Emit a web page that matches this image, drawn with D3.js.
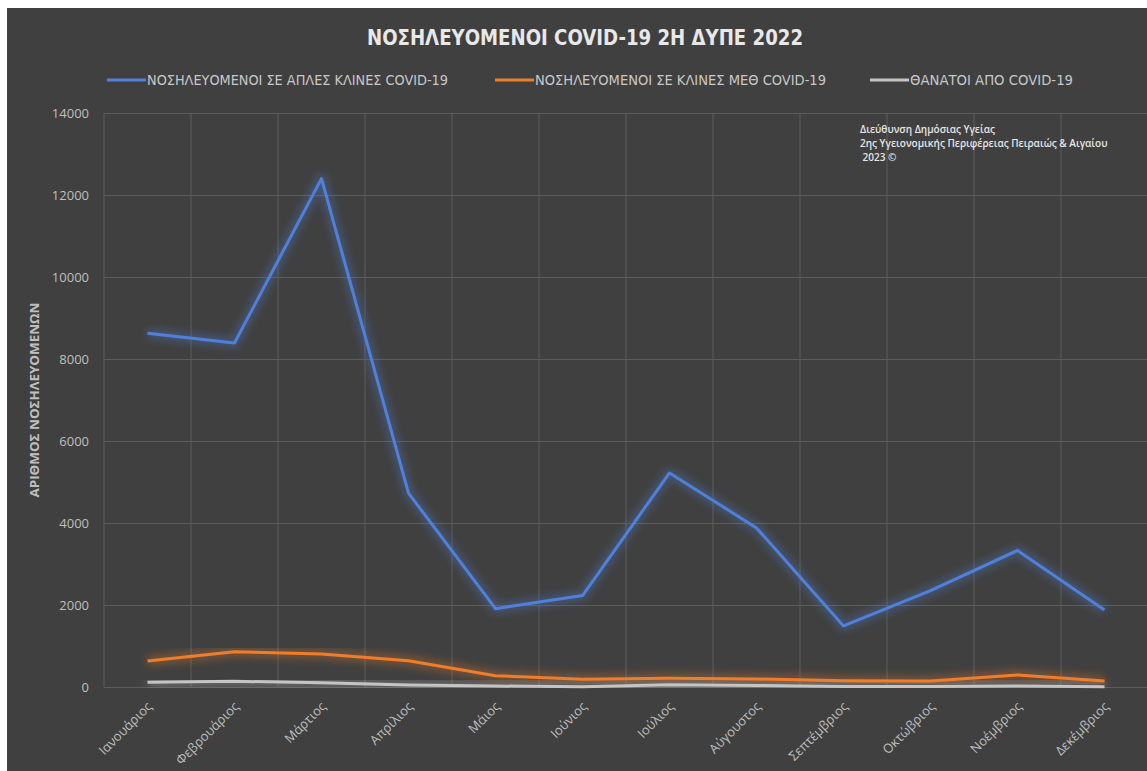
<!DOCTYPE html>
<html>
<head>
<meta charset="utf-8">
<script src="https://cdn.jsdelivr.net/npm/d3@7"></script>
<style>
  html, body { margin: 0; padding: 0; background: #ffffff; }
  svg { display: block; }
</style>
</head>
<body>
<svg id="chart" width="1147" height="771"></svg>
<script>
// ---- data ----
const months = ["Ιανουάριος","Φεβρουάριος","Μάρτιος","Απρίλιος","Μάιος","Ιούνιος","Ιούλιος","Αύγουστος","Σεπτέμβριος","Οκτώβριος","Νοέμβριος","Δεκέμβριος"];
const wardBeds = [8630, 8390, 12400, 4730, 1910, 2230, 5220, 3880, 1490, 2350, 3330, 1880];
const icuBeds  = [634, 861, 805, 641, 276, 188, 212, 195, 154, 146, 293, 146];
const deaths   = [115, 139, 105, 49, 24, 8, 56, 37, 15, 15, 25, 8];
const yTicks   = [0, 2000, 4000, 6000, 8000, 10000, 12000, 14000];
const seriesNames = ["ΝΟΣΗΛΕΥΟΜΕΝΟΙ ΣΕ ΑΠΛΕΣ ΚΛΙΝΕΣ COVID-19", "ΝΟΣΗΛΕΥΟΜΕΝΟΙ ΣΕ ΚΛΙΝΕΣ ΜΕΘ COVID-19", "ΘΑΝΑΤΟΙ ΑΠΟ COVID-19"];
const seriesColors = ["#4f80dc", "#f07d2c", "#c4c4c4"];
const titleText = "ΝΟΣΗΛΕΥΟΜΕΝΟΙ COVID-19 2Η ΔΥΠΕ 2022";
const yTitle = "ΑΡΙΘΜΟΣ ΝΟΣΗΛΕΥΟΜΕΝΩΝ";
const noteLines = ["Διεύθυνση Δημόσιας Υγείας", "2ης Υγειονομικής Περιφέρειας Πειραιώς & Αιγαίου", " 2023 ©"];

const svg = d3.select("#chart");
const W = 1147, H = 771;
const pLeft = 104, pRight = 1148, pTop = 113, pBottom = 687;
const condensed = "'DejaVu Sans Condensed', 'Open Sans', sans-serif";

// background
svg.append("rect").attr("x", 7).attr("y", 8).attr("width", W - 7).attr("height", H - 8).attr("fill", "#404040");

const defs = svg.append("defs");
const glow = defs.append("filter").attr("id", "glow").attr("x", "-10%").attr("y", "-10%").attr("width", "120%").attr("height", "120%");
glow.append("feGaussianBlur").attr("stdDeviation", 4);

const x = d3.scaleBand().domain(months).range([pLeft, pRight]);
const y = d3.scaleLinear().domain([0, 14000]).range([pBottom, pTop]);
const cx = d => x(d) + x.bandwidth() / 2;

// horizontal gridlines + y labels
const yAxis = d3.axisLeft(y).tickValues(yTicks).tickSize(-(pRight - pLeft)).tickPadding(15).tickFormat(d3.format("d"));
const gy = svg.append("g").attr("transform", `translate(${pLeft},0)`).call(yAxis);
gy.select(".domain").remove();
gy.selectAll(".tick line").attr("stroke", "#5c5c5c").attr("stroke-width", 1);
gy.selectAll(".tick text").attr("fill", "#bfbfbf").attr("font-family", "Open Sans").attr("font-size", 13);

// vertical gridlines at category boundaries
const bounds = months.map(m => x(m)).concat([pRight]);
svg.append("g").selectAll("line").data(bounds).join("line")
  .attr("x1", d => d).attr("x2", d => d).attr("y1", pTop).attr("y2", pBottom)
  .attr("stroke", "#5c5c5c").attr("stroke-width", 1);

// x labels
svg.append("g").selectAll("text").data(months).join("text")
  .attr("transform", d => `translate(${cx(d) + 2},${pBottom + 17}) rotate(-45)`)
  .attr("text-anchor", "end").attr("dy", "0.35em")
  .attr("fill", "#bfbfbf").attr("font-family", "Open Sans").attr("font-size", 13)
  .text(d => d);

// lines
const allSeries = [wardBeds, icuBeds, deaths];
const line = d3.line().x((d, i) => cx(months[i])).y(d => y(d));
allSeries.forEach((s, k) => {
  svg.append("path").datum(s).attr("d", line).attr("fill", "none")
    .attr("stroke", seriesColors[k]).attr("stroke-width", 9).attr("stroke-opacity", 0.35)
    .attr("stroke-linejoin", "round").attr("filter", "url(#glow)");
});
allSeries.slice().reverse().forEach((s, kk) => {
  const k = allSeries.length - 1 - kk;
  svg.append("path").datum(s).attr("d", line).attr("fill", "none")
    .attr("stroke", seriesColors[k]).attr("stroke-width", 3)
    .attr("stroke-linejoin", "round");
});

// title
svg.append("text").attr("x", 585).attr("y", 45).attr("text-anchor", "middle")
  .attr("fill", "#e8e8e8").attr("font-family", condensed).attr("font-weight", "bold")
  .attr("font-size", 22).attr("textLength", 436).attr("lengthAdjust", "spacingAndGlyphs")
  .text(titleText);

// legend
const legendX = [107, 495, 870];
const legendW = [301, 291, 163];
seriesNames.forEach((n, k) => {
  svg.append("line").attr("x1", legendX[k]).attr("x2", legendX[k] + 39).attr("y1", 80).attr("y2", 80)
    .attr("stroke", seriesColors[k]).attr("stroke-width", 3);
  svg.append("text").attr("x", legendX[k] + 40).attr("y", 80).attr("dy", "0.35em")
    .attr("fill", "#c8c8c8").attr("font-family", condensed).attr("font-size", 14)
    .attr("textLength", legendW[k]).attr("lengthAdjust", "spacingAndGlyphs")
    .text(n);
});

// y axis title
svg.append("text").attr("transform", "translate(35,400) rotate(-90)").attr("text-anchor", "middle").attr("dy", "0.35em")
  .attr("fill", "#bfbfbf").attr("font-family", "Open Sans").attr("font-weight", "bold").attr("font-size", 12)
  .attr("textLength", 195).attr("lengthAdjust", "spacingAndGlyphs")
  .text(yTitle);

// note
svg.append("g").selectAll("text").data(noteLines).join("text")
  .attr("x", 860).attr("y", (d, i) => 129 + i * 14).attr("dy", "0.35em")
  .attr("fill", "#e6e6e6").attr("font-family", "Open Sans").attr("font-weight", 600).attr("font-size", 10)
  .style("white-space", "pre")
  .text(d => d);
</script>
</body>
</html>
